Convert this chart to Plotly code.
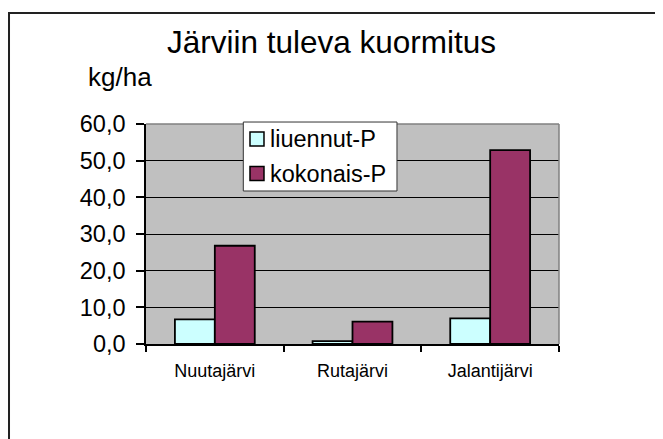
import plotly.graph_objects as go

# data
lakes = ['Nuutajärvi', 'Rutajärvi', 'Jalantijärvi']
liuennut_p = [6.7, 0.8, 7.0]
kokonais_p = [26.8, 6.1, 52.9]
series_names = ['liuennut-P', 'kokonais-P']
y_ticks = [0, 10, 20, 30, 40, 50, 60]

CYAN = '#CCFFFF'
MAROON = '#993366'
FONT = 'Arial, Liberation Sans, sans-serif'

# page body has an 8px margin, so the figure is 8px smaller than the window
W, H = 655, 431

fig = go.Figure()

fig.add_trace(go.Bar(
    x=lakes, y=liuennut_p, name=series_names[0],
    marker=dict(color=CYAN, line=dict(color='black', width=1.8))
))
fig.add_trace(go.Bar(
    x=lakes, y=kokonais_p, name=series_names[1],
    marker=dict(color=MAROON, line=dict(color='black', width=1.8))
))

# outer chart frame (runs off the right and bottom edges in the original)
fig.add_shape(type='rect', xref='paper', yref='paper',
              x0=-0.3317, x1=1.5, y0=-1.0, y1=1.5045,
              line=dict(color='#222222', width=2), layer='above')

# gray plot-area border on top and right
fig.add_shape(type='line', xref='paper', yref='paper', x0=0, x1=1, y0=1, y1=1,
              line=dict(color='#808080', width=1.5))
fig.add_shape(type='line', xref='paper', yref='paper', x0=1, x1=1, y0=0, y1=1,
              line=dict(color='#808080', width=1.5))

# legend box drawn by hand to match the compact Excel-style legend
fig.add_shape(type='rect', xref='paper', yref='paper',
              x0=0.2356, x1=0.6077, y0=0.6955, y1=1.009,
              fillcolor='white', line=dict(color='#333333', width=1), layer='above')
for name, color, yc in [(series_names[0], CYAN, 0.9318), (series_names[1], MAROON, 0.775)]:
    fig.add_shape(type='rect', xref='paper', yref='paper',
                  x0=0.2518, x1=0.2857, y0=yc - 0.0318, y1=yc + 0.0318,
                  fillcolor=color, line=dict(color='black', width=1.5), layer='above')
    fig.add_annotation(text=name, xref='paper', yref='paper', x=0.296, y=yc,
                       xanchor='left', yanchor='middle', showarrow=False,
                       font=dict(family=FONT, size=23.5, color='black'))

fig.add_annotation(text='kg/ha', xref='paper', yref='paper', x=-0.063, y=1.2136,
                   xanchor='center', yanchor='middle', showarrow=False,
                   font=dict(family=FONT, size=26, color='black'))

fig.update_layout(
    width=W, height=H,
    margin=dict(l=138, r=104, t=116, b=95),
    paper_bgcolor='white',
    plot_bgcolor='#C0C0C0',
    separators=', ',
    showlegend=False,
    barmode='group',
    bargap=0.42,
    bargroupgap=0,
    title=dict(text='Järviin tuleva kuormitus', x=323.5 / W, xanchor='center',
               y=1 - 34 / H, yanchor='middle',
               font=dict(family=FONT, size=31.5, color='black')),
    font=dict(family=FONT, color='black'),
)

fig.update_yaxes(
    range=[0, 60], tickvals=y_ticks, tickformat='.1f',
    showgrid=True, gridcolor='black', gridwidth=1,
    showline=True, linecolor='black', linewidth=1.5,
    ticks='outside', ticklen=8, tickcolor='black', tickwidth=1.5,
    ticklabelstandoff=6,
    tickfont=dict(family=FONT, size=23.5, color='black'),
    zeroline=False,
)
fig.update_xaxes(
    showline=True, linecolor='black', linewidth=1.5,
    ticks='outside', tickson='boundaries', ticklen=6, tickcolor='black', tickwidth=1.5,
    ticklabelstandoff=10,
    tickfont=dict(family=FONT, size=18, color='black'),
    showgrid=False,
)

fig.write_html('out.html')
